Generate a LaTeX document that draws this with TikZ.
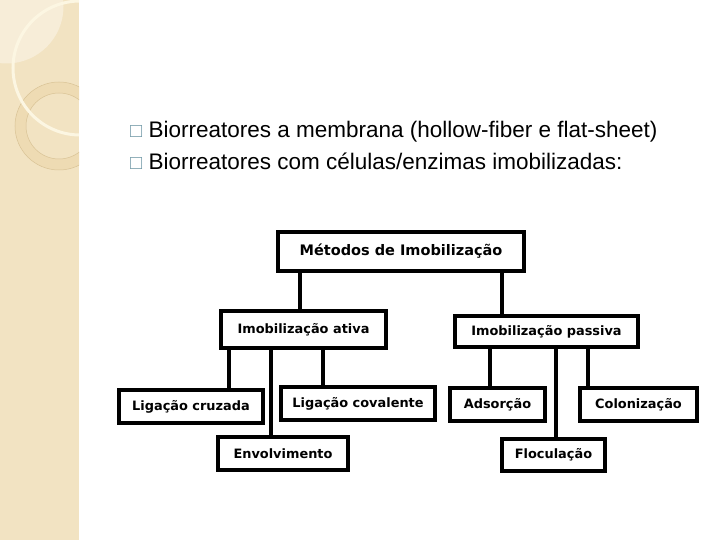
\documentclass[tikz,border=0pt]{standalone}
\usepackage{fontspec}
\setmainfont{Liberation Sans}
\newfontfamily\boxfont{DejaVu Sans}
\usetikzlibrary{positioning}
\definecolor{bandtan}{HTML}{F2E3C2}
\definecolor{bandlight}{HTML}{F7EDD8}
\definecolor{ringtan}{HTML}{EEDBB3}
\definecolor{ringline}{HTML}{D9C396}
\definecolor{arccream}{HTML}{FCF6E2}
\definecolor{bulletc}{HTML}{6F97A5}

\begin{document}
\begin{tikzpicture}[
  x=1pt, y=-1pt,
  method/.style={
    rectangle,
    draw=black,
    line width=3.6pt,
    fill=white,
    inner sep=0pt,
    align=center,
    minimum height=33pt,
    font=\boxfont\bfseries\fontsize{12.9}{14}\selectfont
  },
  topmethod/.style={
    method,
    font=\boxfont\bfseries\fontsize{14.5}{16}\selectfont
  },
  bullet/.style={
    anchor=base west,
    inner sep=0pt,
    font=\fontsize{22.5}{26}\selectfont
  },
  link/.style={line width=3.4pt, draw=black}
]
\useasboundingbox (0,0) rectangle (720,540);

% left band of the slide
\fill[bandtan] (0,0) rectangle (79,540);
\begin{scope}
  \clip (0,0) rectangle (79,540);
  \fill[bandlight] (6.5,6.5) circle (57);
  \draw[ringtan, line width=11pt] (59,126) circle (38.5);
  \draw[ringline, line width=0.5pt] (59,126) circle (44);
  \draw[ringline, line width=0.5pt] (59,126) circle (33);
  \draw[arccream, line width=3pt] (80,68) circle (67);
\end{scope}

% bullets
\node[bullet] (linha1) at (130,138)
  {{\color{bulletc}\fontsize{20}{20}\selectfont □} Biorreatores a membrana (hollow-fiber e flat-sheet)};
\node[bullet] (linha2) at (130,170)
  {{\color{bulletc}\fontsize{20}{20}\selectfont □} Biorreatores com células/enzimas imobilizadas:};

% tree of methods
\node[topmethod, minimum width=246pt, minimum height=39pt] (metodos) at (401,251.5) {Métodos de Imobilização};

\node[method, minimum width=165pt, minimum height=37pt] (ativa) at (303.5,329.5) {Imobilização ativa};
\node[method, minimum width=183pt, minimum height=31pt] (passiva) at (546.5,331.5) {Imobilização passiva};

\node[method, minimum width=144pt] (cruzada) at (191,406.5) {Ligação cruzada};
\node[method, minimum width=154pt] (covalente) at (358,403.5) {Ligação covalente};
\node[method, minimum width=130pt] (envolvimento) at (283,453.5) {Envolvimento};
\node[method, minimum width=95pt] (adsorcao) at (497.5,404.5) {Adsorção};
\node[method, minimum width=117pt] (colonizacao) at (638.5,404.5) {Colonização};
\node[method, minimum width=103pt, minimum height=32pt] (floculacao) at (553.5,455) {Floculação};

\draw[link] (metodos.south -| 300,0) -- (ativa.north -| 300,0);
\draw[link] (metodos.south -| 502,0) -- (passiva.north -| 502,0);

\foreach \kid/\xx in {cruzada/229, envolvimento/271, covalente/323}
  \draw[link] (ativa.south -| \xx,0) -- (\kid.north -| \xx,0);
\foreach \kid/\xx in {adsorcao/490, floculacao/556, colonizacao/588}
  \draw[link] (passiva.south -| \xx,0) -- (\kid.north -| \xx,0);

\end{tikzpicture}
\end{document}
